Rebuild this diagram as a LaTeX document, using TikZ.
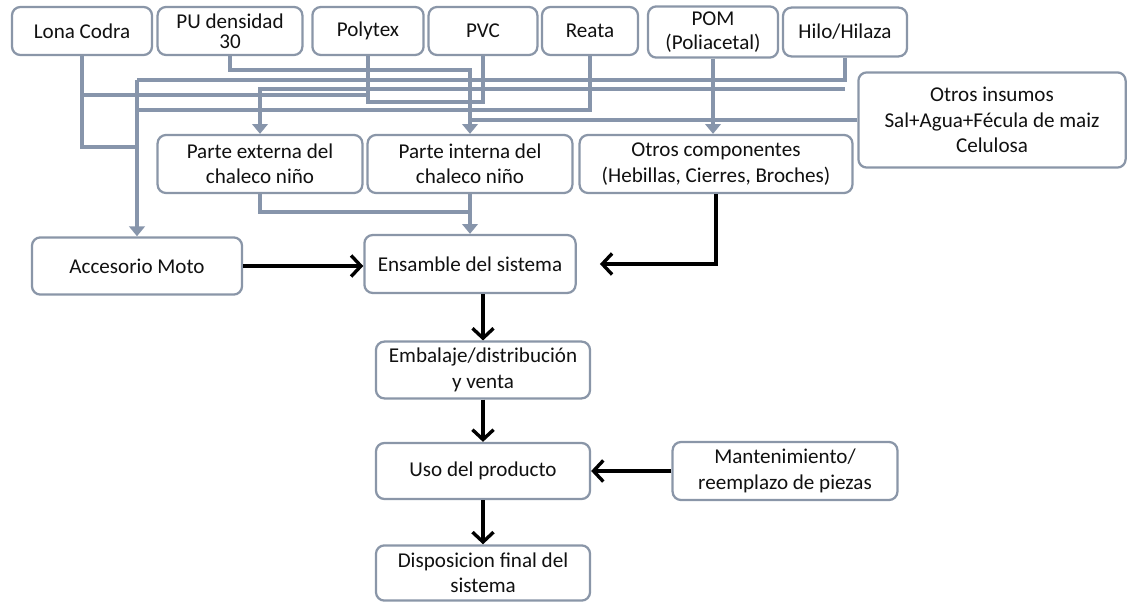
\documentclass[tikz,border=0pt]{standalone}
\usepackage{fontspec}
\setmainfont{Carlito}
\usetikzlibrary{arrows.meta}
\definecolor{frame}{HTML}{8A96A8}
\definecolor{feedline}{HTML}{8795AB}
\definecolor{ink}{HTML}{111111}

\begin{document}
\begin{tikzpicture}[x=0.025cm,y=-0.025cm,
  font=\fontsize{15}{18}\selectfont,text=ink,
  box/.style={draw=frame,line width=1.6pt,rounded corners=6pt,fill=white,
    align=center,inner sep=1pt,minimum height=1.2cm},
  feed/.style={draw=feedline,line width=2.4pt},
  feedto/.style={feed,-{Triangle[length=7pt,width=11pt]}},
  flow/.style={draw=black,line width=2.4pt,-{Straight Barb[length=7pt,width=15pt]}}]
  \useasboundingbox (0,0) rectangle (1128,602);

  % materias primas
  \node[box,minimum width=3.5cm] (lona) at (82,31) {Lona Codra};
  \node[box,minimum width=3.62cm,font=\fontsize{15}{14}\selectfont] (pu) at (230,31)
    {PU densidad\\30};
  \node[box,minimum width=2.78cm] (polytex) at (368,31) {Polytex};
  \node[box,minimum width=2.72cm] (pvc) at (483,31) {PVC};
  \node[box,minimum width=2.4cm] (reata) at (590,31) {Reata};
  \node[box,minimum width=3.25cm,minimum height=1.28cm,font=\fontsize{15}{17}\selectfont]
    (pom) at (713,32) {POM\\(Poliacetal)};
  \node[box,minimum width=3.1cm,minimum height=1.22cm] (hilo) at (845,32) {Hilo/Hilaza};
  \node[box,minimum width=6.68cm,minimum height=2.38cm] (insumos) at (992,120)
    {Otros insumos\\Sal+Agua+Fécula de maiz\\Celulosa};

  % componentes
  \node[box,minimum width=5.12cm,minimum height=1.45cm] (externa) at (260,164)
    {Parte externa del\\chaleco niño};
  \node[box,minimum width=5.12cm,minimum height=1.45cm] (interna) at (470,164)
    {Parte interna del\\chaleco niño};
  \node[box,minimum width=6.82cm,minimum height=1.45cm] (ocomp) at (716,164)
    {Otros componentes\\(Hebillas, Cierres, Broches)};
  \node[box,minimum width=5.25cm,minimum height=1.43cm] (acc) at (137,266) {Accesorio Moto};
  \node[box,minimum width=5.28cm,minimum height=1.45cm] (ens) at (470,264)
    {Ensamble del sistema};

  % ciclo de vida
  \node[box,minimum width=5.35cm,minimum height=1.42cm] (emb) at (483,370)
    {Embalaje/distribución\\y venta};
  \node[box,minimum width=5.35cm,minimum height=1.4cm] (uso) at (483,471) {Uso del producto};
  \node[box,minimum width=5.62cm,minimum height=1.45cm] (mant) at (785,471)
    {Mantenimiento/\\reemplazo de piezas};
  \node[box,minimum width=5.35cm,minimum height=1.38cm] (disp) at (483,573)
    {Disposicion final del\\sistema};

  % uniones
  \coordinate (trunk) at (137,80);
  \coordinate (hjoin) at (845,89);
  \coordinate (pujoin) at (470,70);
  \coordinate (lmid) at (82,95);
  \coordinate (pvcjoin) at (368,102);
  \coordinate (rjoin) at (137,110);
  \coordinate (ljoin) at (137,147);
  \coordinate (ijoin) at (470,120);
  \coordinate (ejoin) at (470,212);

  \draw[feed] (hilo.south) |- (trunk);
  \draw[feedto] (hjoin) -| (externa.north);
  \draw[feedto] (trunk) -- (acc.north);
  \draw[feedto] (pu.south) |- (pujoin) -- (interna.north);
  \draw[feed] (polytex.south) |- (lmid);
  \draw[feed] (pvc.south) |- (pvcjoin) -- (polytex.south);
  \draw[feed] (reata.south) |- (rjoin);
  \draw[feed] (lona.south) |- (ljoin);
  \draw[feed] (insumos.west) -- (ijoin);
  \draw[feedto] (pom.south) -- (pom.south |- ocomp.north);
  \draw[feed] (externa.south) |- (ejoin);
  \draw[feedto] (interna.south) -- (ens.north);

  \draw[flow] (acc.east) -- (acc.east -| ens.west);
  \draw[flow] (ocomp.south) |- ([xshift=0.58cm]ens.east);
  \draw[flow] (emb.north |- ens.south) -- (emb.north);
  \draw[flow] (emb.south) -- (uso.north);
  \draw[flow] (mant.west) -- (uso.east);
  \draw[flow] (uso.south) -- (disp.north);
\end{tikzpicture}
\end{document}
